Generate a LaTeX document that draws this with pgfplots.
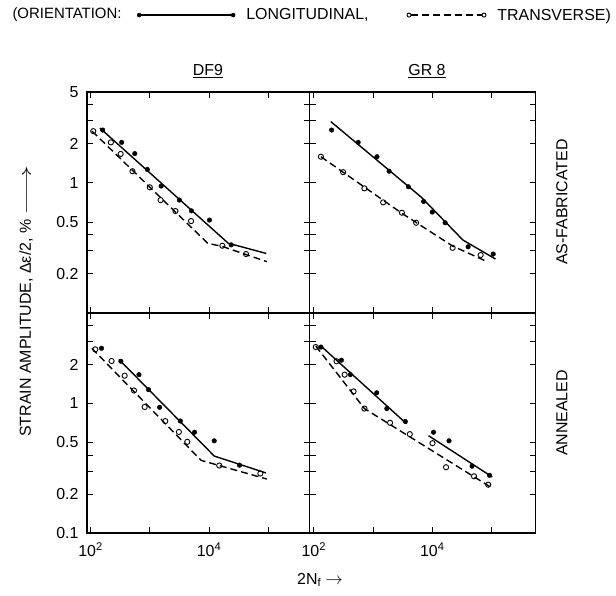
\documentclass[border=0pt]{standalone}
\usepackage{fontspec}
\setmainfont{Liberation Sans}
\setsansfont{Liberation Sans}
\usepackage{pgfplots}
\pgfplotsset{compat=1.18}

\newcommand{\lab}{\fontsize{16}{18}\selectfont}

\pgfplotsset{
  every axis/.append style={
    scale only axis,
    ymin=0.1, ymax=5,
    xtick={100,1000,10000,100000},
    ytick={0.1,0.2,0.3,0.4,0.5,1,2,3,4,5},
    xtick pos=both, ytick pos=both, tick align=inside,
    major tick length=6bp,
    minor tick length=0pt,
    major tick style={black, line width=0.9pt},
    axis line style={line width=1.3pt},
    tick label style={font=\lab},
    yticklabel style={xshift=-5bp},
    xticklabel style={yshift=-6bp},
  },
}
\tikzset{
  lon/.style={only marks, mark=*, mark size=2.3bp, black},
  tra/.style={only marks, mark=o, mark size=2.6bp, black,
    mark options={line width=0.9pt, fill=white}},
  lonline/.style={black, line width=1.4pt},
  traline/.style={black, line width=1.4pt, dash pattern=on 7bp off 4bp},
}

\begin{document}
\begin{tikzpicture}

% as-fabricated, DF9
\begin{loglogaxis}[at={(0bp,220bp)}, anchor=south west,
    width=222.6bp, height=221bp, xmin=87, xmax=5e5,
    xticklabels={}, yticklabels={,0.2,,,0.5,1,2,,,5},
    legend style={at={(2.363,1.348)}, anchor=east, draw=none, fill=none,
      legend columns=-1, font=\lab, inner sep=0pt,
      /tikz/every odd column/.append style={column sep=9bp},
      /tikz/every even column/.append style={column sep=36bp}}]
\addlegendimage{legend image code/.code={
  \draw[black, line width=1.2pt] (0bp,0bp) -- (94bp,0bp);
  \fill[black] (0bp,0bp) circle (2bp); \fill[black] (94bp,0bp) circle (2bp);}}
\addlegendentry{LONGITUDINAL,}
\addlegendimage{legend image code/.code={
  \draw[black, line width=1.2pt, dash pattern=on 7bp off 4bp] (2bp,0bp) -- (73bp,0bp);
  \draw[black, line width=0.9pt, fill=white] (0bp,0bp) circle (2bp);
  \draw[black, line width=0.9pt, fill=white] (75bp,0bp) circle (2bp);}}
\addlegendentry{TRANSVERSE)}
\addplot[lonline, forget plot] coordinates {(144,2.64) (21100,0.344) (92600,0.287)};
\addplot[traline, forget plot] coordinates {(106,2.5) (9500,0.344) (17400,0.323) (95000,0.248)};
\addplot[lon, forget plot] coordinates {(160,2.55) (335,2.05) (558,1.68) (908,1.27) (1555,0.946)
  (3160,0.738) (5050,0.61) (10200,0.518) (23700,0.334)};
\addplot[tra, forget plot] coordinates {(111,2.5) (220,2.05) (322,1.67) (510,1.23) (1000,0.925)
  (1520,0.738) (2710,0.608) (4980,0.509) (16800,0.329) (42200,0.284)};
\end{loglogaxis}

% as-fabricated, GR8
\begin{loglogaxis}[at={(222.6bp,220bp)}, anchor=south west,
    width=226bp, height=221bp, xmin=85, xmax=5.56e5,
    xticklabels={}, yticklabels={}]
\addplot[lonline] coordinates {(194,2.96) (6560,0.776) (32900,0.364) (117000,0.26)};
\addplot[traline] coordinates {(132,1.59) (3040,0.586) (22100,0.327) (84700,0.248)};
\addplot[lon] coordinates {(200,2.55) (562,2.05) (1166,1.59) (1870,1.23) (3940,0.935)
  (7160,0.72) (10000,0.597) (16500,0.494) (40300,0.323) (107000,0.284)};
\addplot[tra] coordinates {(132,1.59) (313,1.21) (716,0.908) (1485,0.709) (3080,0.59)
  (5350,0.494) (22100,0.317) (65600,0.279)};
\end{loglogaxis}

% annealed, DF9
\begin{loglogaxis}[at={(0bp,0bp)}, anchor=south west,
    width=222.6bp, height=220bp, xmin=87, xmax=5e5,
    yticklabels={0.1,0.2,,,0.5,1,2,,,},
    xticklabels={10\textsuperscript{2},,10\textsuperscript{4},}]
\addplot[lonline] coordinates {(301,2.19) (12250,0.393) (91500,0.291)};
\addplot[traline] coordinates {(105,2.67) (7350,0.364) (14900,0.332) (95000,0.261)};
\addplot[lon] coordinates {(153,2.67) (325,2.12) (656,1.67) (951,1.28) (1468,0.935)
  (3280,0.733) (5690,0.6) (12250,0.515) (32800,0.334)};
\addplot[tra] coordinates {(120,2.62) (226,2.13) (376,1.64) (541,1.26) (819,0.94)
  (1827,0.732) (3100,0.603) (4300,0.506) (14900,0.332) (73600,0.288)};
\end{loglogaxis}

% annealed, GR8
\begin{loglogaxis}[at={(222.6bp,0bp)}, anchor=south west,
    width=226bp, height=220bp, xmin=85, xmax=5.56e5,
    yticklabels={},
    xticklabels={10\textsuperscript{2},,10\textsuperscript{4},}]
\addplot[lonline] coordinates {(132,2.78) (3690,0.697)};
\addplot[lonline] coordinates {(8670,0.564) (103000,0.271)};
\addplot[traline] coordinates {(108,2.78) (716,0.914) (92600,0.229)};
\addplot[lon] coordinates {(132,2.73) (293,2.16) (414,1.67) (1153,1.21) (1710,0.914)
  (3510,0.726) (10500,0.6) (19200,0.515) (47000,0.328) (92600,0.279)};
\addplot[tra] coordinates {(108,2.73) (242,2.12) (332,1.67) (470,1.24) (716,0.914)
  (1940,0.71) (4180,0.58) (10100,0.494) (17100,0.322) (50700,0.274) (88100,0.236)};
\end{loglogaxis}

\node[font=\fontsize{15}{17}\selectfont, anchor=west] at (-78bp,518bp) {(ORIENTATION:};
\node[font=\lab] at (121bp,462bp) {\underline{DF9}};
\node[font=\lab] at (340bp,462bp) {\underline{GR 8}};
\node[font=\lab, rotate=90] at (475bp,331bp) {AS-FABRICATED};
\node[font=\lab, rotate=90] at (475bp,120bp) {ANNEALED};
\node[font=\lab, rotate=90] at (-61bp,232bp) {STRAIN AMPLITUDE, Δε/2, \% \scalebox{1.8}[1]{$\longrightarrow$}};
\node[font=\lab] at (233bp,-47bp) {2N\textsubscript{f} $\rightarrow$};

\pgfresetboundingbox
\path[use as bounding box] (-87bp,-63bp) rectangle (529bp,533bp);
\end{tikzpicture}
\end{document}
